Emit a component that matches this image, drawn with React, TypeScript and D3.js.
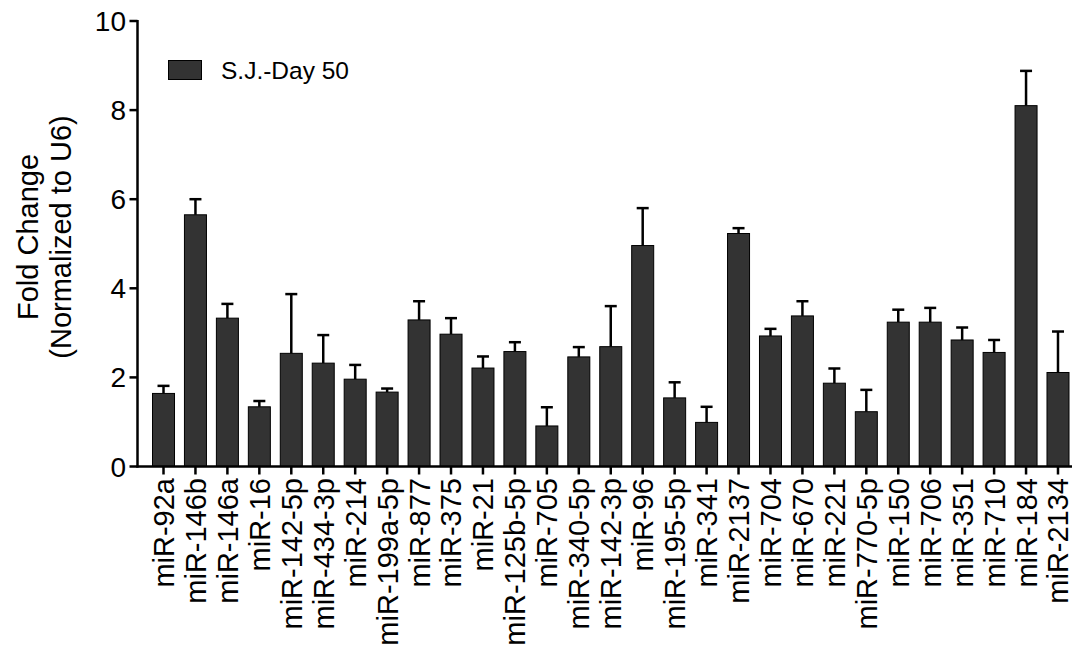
import React from "react";
import { scaleBand, scaleLinear } from "d3";

// miRNA targets, in plot order
const categories = [
  "miR-92a", "miR-146b", "miR-146a", "miR-16", "miR-142-5p", "miR-434-3p",
  "miR-214", "miR-199a-5p", "miR-877", "miR-375", "miR-21", "miR-125b-5p",
  "miR-705", "miR-340-5p", "miR-142-3p", "miR-96", "miR-195-5p", "miR-341",
  "miR-2137", "miR-704", "miR-670", "miR-221", "miR-770-5p", "miR-150",
  "miR-706", "miR-351", "miR-710", "miR-184", "miR-2134",
];

// mean fold change
const means = [
  1.64, 5.65, 3.33, 1.34, 2.54, 2.32, 1.96, 1.67, 3.29, 2.97, 2.21, 2.58,
  0.91, 2.46, 2.69, 4.96, 1.54, 0.99, 5.23, 2.93, 3.38, 1.87, 1.23, 3.24,
  3.24, 2.84, 2.56, 8.10, 2.11,
];

// top of the (upper) error bar
const errTops = [
  1.81, 6.0, 3.65, 1.47, 3.87, 2.95, 2.28, 1.75, 3.71, 3.33, 2.47, 2.79,
  1.33, 2.68, 3.6, 5.8, 1.89, 1.34, 5.35, 3.09, 3.71, 2.2, 1.72, 3.52,
  3.56, 3.12, 2.84, 8.88, 3.03,
];

const yTicks = [0, 2, 4, 6, 8, 10];
const legendLabel = "S.J.-Day 50";

const FONT = "'Liberation Sans', Arial, Helvetica, sans-serif";

export default function App() {
  const width = 1081;
  const height = 653;
  const axisX = 137.5;
  const axisY = 466.5;

  const x = scaleBand<string>()
    .domain(categories)
    .range([152.5, 1069])
    .paddingInner(0.311)
    .paddingOuter(0);

  const y = scaleLinear().domain([0, 10]).range([axisY, 21]);

  const bw = x.bandwidth();
  const cap = 12;

  return (
    <svg
      width={width}
      height={height}
      style={{ position: "absolute", left: 0, top: 0, background: "#fff" }}
      fontFamily={FONT}
    >
      {/* bars */}
      {categories.map((c, i) => (
        <rect
          key={c}
          x={x(c)}
          y={y(means[i])}
          width={bw}
          height={axisY - y(means[i])}
          fill="#333333"
          stroke="#000"
          strokeWidth={1}
        />
      ))}

      {/* error bars, upper only */}
      {categories.map((c, i) => {
        const cx = (x(c) as number) + bw / 2;
        return (
          <g key={"e" + c} stroke="#000" strokeWidth={2.5}>
            <line x1={cx} x2={cx} y1={y(means[i])} y2={y(errTops[i])} />
            <line x1={cx - cap / 2} x2={cx + cap / 2} y1={y(errTops[i])} y2={y(errTops[i])} />
          </g>
        );
      })}

      {/* y axis */}
      <line x1={axisX} x2={axisX} y1={y(10) - 1} y2={axisY + 1} stroke="#000" strokeWidth={2.5} />
      {yTicks.map((t) => (
        <g key={t} transform={`translate(0,${y(t)})`}>
          <line x1={axisX - 8} x2={axisX} stroke="#000" strokeWidth={2.5} />
          <text x={126} dy="0.36em" textAnchor="end" fontSize={28}>
            {t}
          </text>
        </g>
      ))}

      {/* x axis */}
      <line x1={axisX - 1} x2={1072} y1={axisY} y2={axisY} stroke="#000" strokeWidth={2.5} />
      {categories.map((c) => {
        const cx = (x(c) as number) + bw / 2;
        return (
          <g key={"t" + c}>
            <line x1={cx} x2={cx} y1={axisY} y2={axisY + 8} stroke="#000" strokeWidth={2.5} />
            <text
              transform={`translate(${cx},478) rotate(-90)`}
              dy="0.36em"
              textAnchor="end"
              fontSize={29}
            >
              {c}
            </text>
          </g>
        );
      })}

      {/* y title */}
      <text transform="translate(38,237) rotate(-90)" textAnchor="middle" fontSize={29}>
        Fold Change
      </text>
      <text transform="translate(71,237) rotate(-90)" textAnchor="middle" fontSize={29}>
        (Normalized to U6)
      </text>

      {/* legend */}
      <rect x={168.5} y={60.5} width={33} height={19} fill="#333333" stroke="#000" strokeWidth={1} />
      <text x={221} y={79} fontSize={24.5}>
        {legendLabel}
      </text>
    </svg>
  );
}
